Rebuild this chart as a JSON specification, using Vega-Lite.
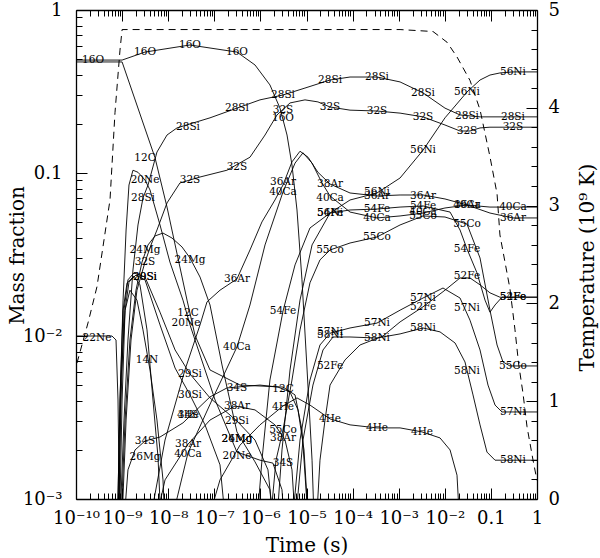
{
"$schema":"https://vega.github.io/schema/vega-lite/v6.json",
"width":461,"height":489,
"autosize":{"type":"none"},
"padding":{"left":76,"top":10,"right":63,"bottom":59},
"background":"white",
"config":{"view":{"stroke":null},"axis":{"grid":false,"domainColor":"black","domainWidth":1.3,"tickColor":"black","tickWidth":1,"labelColor":"black","titleColor":"black","labelFont":"DejaVu Serif","titleFont":"DejaVu Serif","titleFontWeight":"normal","labelFontSize":18,"titleFontSize":20}},
"datasets":{
"curves":[
{"s":"16O","t":1e-10,"X":0.493},{"s":"16O","t":1e-9,"X":0.493},{"s":"16O","t":3.14e-9,"X":0.552},{"s":"16O","t":2.97e-8,"X":0.61},{"s":"16O","t":3.1e-7,"X":0.552},{"s":"16O","t":7.64e-7,"X":0.46},{"s":"16O","t":1.61e-6,"X":0.347},{"s":"16O","t":2.66e-6,"X":0.25},{"s":"16O","t":3.78e-6,"X":0.171},{"s":"16O","t":4.84e-6,"X":0.112},{"s":"16O","t":6.22e-6,"X":0.0593},{"s":"16O","t":7.98e-6,"X":0.0221},{"s":"16O","t":1.03e-5,"X":0.00619},{"s":"16O","t":1.32e-5,"X":0.00173},{"s":"16O","t":1.53e-5,"X":0.0005},
{"s":"12C","t":1e-10,"X":0.48},{"s":"12C","t":1e-9,"X":0.48},{"s":"12C","t":5.18e-9,"X":0.124},{"s":"12C","t":9.42e-9,"X":0.0618},{"s":"12C","t":2.56e-8,"X":0.0166},{"s":"12C","t":3.81e-8,"X":0.0101},{"s":"12C","t":8.07e-8,"X":0.00619},{"s":"12C","t":3.61e-7,"X":0.005},{"s":"12C","t":3.09e-6,"X":0.00486},{"s":"12C","t":5.64e-6,"X":0.00435},{"s":"12C","t":7.98e-6,"X":0.00265},{"s":"12C","t":1.19e-5,"X":0.0005},
{"s":"28Si","t":8.57e-10,"X":0.0005},{"s":"28Si","t":1.1e-9,"X":0.00305},{"s":"28Si","t":1.34e-9,"X":0.00945},{"s":"28Si","t":1.72e-9,"X":0.0254},{"s":"28Si","t":2.21e-9,"X":0.048},{"s":"28Si","t":2.84e-9,"X":0.0703},{"s":"28Si","t":3.65e-9,"X":0.0844},{"s":"28Si","t":5.71e-9,"X":0.1345},{"s":"28Si","t":9.42e-9,"X":0.171},{"s":"28Si","t":1.55e-8,"X":0.189},{"s":"28Si","t":2.97e-8,"X":0.2},{"s":"28Si","t":8.07e-8,"X":0.218},{"s":"28Si","t":3.1e-7,"X":0.25},{"s":"28Si","t":9.8e-7,"X":0.281},{"s":"28Si","t":3.09e-6,"X":0.301},{"s":"28Si","t":9.27e-6,"X":0.332},{"s":"28Si","t":3.24e-5,"X":0.372},{"s":"28Si","t":8.79e-5,"X":0.388},{"s":"28Si","t":3.38e-4,"X":0.388},{"s":"28Si","t":1.07e-3,"X":0.362},{"s":"28Si","t":3.37e-3,"X":0.31},{"s":"28Si","t":1.01e-2,"X":0.25},{"s":"28Si","t":2.14e-2,"X":0.227},{"s":"28Si","t":5.81e-2,"X":0.221},{"s":"28Si","t":1,"X":0.221},
{"s":"32S","t":9.46e-10,"X":0.0005},{"s":"32S","t":1.22e-9,"X":0.00305},{"s":"32S","t":1.56e-9,"X":0.00945},{"s":"32S","t":2.1e-9,"X":0.0191},{"s":"32S","t":3.14e-9,"X":0.0284},{"s":"32S","t":4.24e-9,"X":0.0362},{"s":"32S","t":5.71e-9,"X":0.0447},{"s":"32S","t":9.42e-9,"X":0.0655},{"s":"32S","t":1.8e-8,"X":0.0869},{"s":"32S","t":4.9e-8,"X":0.0945},{"s":"32S","t":1.88e-7,"X":0.104},{"s":"32S","t":5.94e-7,"X":0.125},{"s":"32S","t":1.26e-6,"X":0.171},{"s":"32S","t":2.29e-6,"X":0.227},{"s":"32S","t":4.39e-6,"X":0.269},{"s":"32S","t":9.27e-6,"X":0.281},{"s":"32S","t":1.77e-5,"X":0.273},{"s":"32S","t":3.24e-5,"X":0.254},{"s":"32S","t":8.79e-5,"X":0.243},{"s":"32S","t":3.38e-4,"X":0.24},{"s":"32S","t":1.07e-3,"X":0.233},{"s":"32S","t":3.37e-3,"X":0.221},{"s":"32S","t":1.01e-2,"X":0.197},{"s":"32S","t":2.14e-2,"X":0.181},{"s":"32S","t":3.52e-2,"X":0.181},{"s":"32S","t":5.81e-2,"X":0.189},{"s":"32S","t":9.55e-2,"X":0.191},{"s":"32S","t":1,"X":0.191},
{"s":"20Ne","t":7.74e-10,"X":0.0005},{"s":"20Ne","t":9.0e-10,"X":0.00405},{"s":"20Ne","t":1.05e-9,"X":0.0166},{"s":"20Ne","t":1.22e-9,"X":0.0447},{"s":"20Ne","t":1.41e-9,"X":0.0844},{"s":"20Ne","t":1.72e-9,"X":0.104},{"s":"20Ne","t":2.21e-9,"X":0.101},{"s":"20Ne","t":3.14e-9,"X":0.0906},{"s":"20Ne","t":4.03e-9,"X":0.0787},{"s":"20Ne","t":6.64e-9,"X":0.048},{"s":"20Ne","t":1.09e-8,"X":0.0284},{"s":"20Ne","t":2.09e-8,"X":0.0166},{"s":"20Ne","t":2.97e-8,"X":0.0117},{"s":"20Ne","t":4.9e-8,"X":0.00765},{"s":"20Ne","t":1.04e-7,"X":0.00405},{"s":"20Ne","t":3.1e-7,"X":0.00194},{"s":"20Ne","t":9.8e-7,"X":0.00173},{"s":"20Ne","t":1.87e-6,"X":0.00166},{"s":"20Ne","t":2.94e-6,"X":0.00114},{"s":"20Ne","t":3.59e-6,"X":0.0005},
{"s":"24Mg","t":9.0e-10,"X":0.0005},{"s":"24Mg","t":1.16e-9,"X":0.00305},{"s":"24Mg","t":1.48e-9,"X":0.00945},{"s":"24Mg","t":2.0e-9,"X":0.0191},{"s":"24Mg","t":2.7e-9,"X":0.0284},{"s":"24Mg","t":3.65e-9,"X":0.0362},{"s":"24Mg","t":5.18e-9,"X":0.0411},{"s":"24Mg","t":7.71e-9,"X":0.0428},{"s":"24Mg","t":1.21e-8,"X":0.0399},{"s":"24Mg","t":1.99e-8,"X":0.0352},{"s":"24Mg","t":2.97e-8,"X":0.0301},{"s":"24Mg","t":4.9e-8,"X":0.023},{"s":"24Mg","t":8.07e-8,"X":0.0155},{"s":"24Mg","t":1.47e-7,"X":0.00664},{"s":"24Mg","t":3.1e-7,"X":0.00258},{"s":"24Mg","t":7.64e-7,"X":0.00169},{"s":"24Mg","t":1.61e-6,"X":0.00114},{"s":"24Mg","t":2.07e-6,"X":0.0005},
{"s":"22Ne","t":1e-10,"X":0.01},{"s":"22Ne","t":6.04e-10,"X":0.01},{"s":"22Ne","t":7.38e-10,"X":0.00945},{"s":"22Ne","t":8.15e-10,"X":0.00405},{"s":"22Ne","t":9.0e-10,"X":0.0005},
{"s":"29Si","t":8.15e-10,"X":0.0005},{"s":"29Si","t":9.46e-10,"X":0.00405},{"s":"29Si","t":1.1e-9,"X":0.0144},{"s":"29Si","t":1.34e-9,"X":0.0221},{"s":"29Si","t":1.81e-9,"X":0.0244},{"s":"29Si","t":3.14e-9,"X":0.023},{"s":"29Si","t":6.64e-9,"X":0.014},{"s":"29Si","t":1.41e-8,"X":0.00821},{"s":"29Si","t":2.97e-8,"X":0.00585},{"s":"29Si","t":8.07e-8,"X":0.00417},{"s":"29Si","t":3.1e-7,"X":0.00301},{"s":"29Si","t":7.64e-7,"X":0.0023},{"s":"29Si","t":1.46e-6,"X":0.00151},{"s":"29Si","t":2.18e-6,"X":0.0005},
{"s":"30Si","t":8.57e-10,"X":0.0005},{"s":"30Si","t":1e-9,"X":0.00405},{"s":"30Si","t":1.16e-9,"X":0.0144},{"s":"30Si","t":1.41e-9,"X":0.0214},{"s":"30Si","t":2.0e-9,"X":0.0237},{"s":"30Si","t":3.14e-9,"X":0.0221},{"s":"30Si","t":6.64e-9,"X":0.0117},{"s":"30Si","t":1.41e-8,"X":0.00636},{"s":"30Si","t":2.97e-8,"X":0.00435},{"s":"30Si","t":6.28e-8,"X":0.00285},{"s":"30Si","t":1.33e-7,"X":0.00162},{"s":"30Si","t":1.98e-7,"X":0.0005},
{"s":"26Mg","t":7.74e-10,"X":0.0005},{"s":"26Mg","t":9.0e-10,"X":0.00405},{"s":"26Mg","t":1.05e-9,"X":0.0144},{"s":"26Mg","t":1.28e-9,"X":0.0212},{"s":"26Mg","t":1.81e-9,"X":0.0233},{"s":"26Mg","t":2.44e-9,"X":0.0206},{"s":"26Mg","t":3.47e-9,"X":0.0109},{"s":"26Mg","t":4.68e-9,"X":0.00405},{"s":"26Mg","t":6.01e-9,"X":0.00181},{"s":"26Mg","t":7.35e-9,"X":0.0005},
{"s":"14N","t":8.15e-10,"X":0.0005},{"s":"14N","t":9.46e-10,"X":0.00537},{"s":"14N","t":1.16e-9,"X":0.0144},{"s":"14N","t":1.48e-9,"X":0.0191},{"s":"14N","t":2.1e-9,"X":0.0166},{"s":"14N","t":2.84e-9,"X":0.0109},{"s":"14N","t":4.03e-9,"X":0.00619},{"s":"14N","t":5.71e-9,"X":0.00305},{"s":"14N","t":7.71e-9,"X":0.00131},{"s":"14N","t":8.95e-9,"X":0.0005},
{"s":"34S","t":1e-9,"X":0.0005},{"s":"34S","t":1.34e-9,"X":0.00151},{"s":"34S","t":1.91e-9,"X":0.002},{"s":"34S","t":3.14e-9,"X":0.00227},{"s":"34S","t":6.64e-9,"X":0.0024},{"s":"34S","t":2.09e-8,"X":0.00293},{"s":"34S","t":8.07e-8,"X":0.00423},{"s":"34S","t":1.88e-7,"X":0.0048},{"s":"34S","t":3.1e-7,"X":0.00486},{"s":"34S","t":9.8e-7,"X":0.005},{"s":"34S","t":2.41e-6,"X":0.00486},{"s":"34S","t":4.39e-6,"X":0.00453},{"s":"34S","t":6.55e-6,"X":0.00352},{"s":"34S","t":8.83e-6,"X":0.002},{"s":"34S","t":1.19e-5,"X":0.0005},
{"s":"38Ar","t":4.03e-9,"X":0.0005},{"s":"38Ar","t":8.53e-9,"X":0.00131},{"s":"38Ar","t":2.69e-8,"X":0.00217},{"s":"38Ar","t":8.07e-8,"X":0.00305},{"s":"38Ar","t":2.81e-7,"X":0.00372},{"s":"38Ar","t":7.64e-7,"X":0.00352},{"s":"38Ar","t":2.07e-6,"X":0.00285},{"s":"38Ar","t":3.42e-6,"X":0.0023},{"s":"38Ar","t":4.84e-6,"X":0.00151},{"s":"38Ar","t":6.22e-6,"X":0.0005},
{"s":"36Ar","t":3.14e-9,"X":0.0005},{"s":"36Ar","t":8.53e-9,"X":0.0023},{"s":"36Ar","t":2.31e-8,"X":0.00619},{"s":"36Ar","t":4.9e-8,"X":0.0117},{"s":"36Ar","t":6.95e-8,"X":0.0162},{"s":"36Ar","t":1.33e-7,"X":0.0191},{"s":"36Ar","t":3.1e-7,"X":0.0224},{"s":"36Ar","t":5.94e-7,"X":0.0337},{"s":"36Ar","t":1.08e-6,"X":0.0501},{"s":"36Ar","t":2.07e-6,"X":0.0683},{"s":"36Ar","t":3.09e-6,"X":0.0844},{"s":"36Ar","t":4.84e-6,"X":0.117},{"s":"36Ar","t":7.23e-6,"X":0.136},{"s":"36Ar","t":1.08e-5,"X":0.125},{"s":"36Ar","t":1.77e-5,"X":0.101},{"s":"36Ar","t":3.24e-5,"X":0.0856},{"s":"36Ar","t":8.79e-5,"X":0.0754},{"s":"36Ar","t":3.38e-4,"X":0.0723},{"s":"36Ar","t":1.07e-3,"X":0.0733},{"s":"36Ar","t":3.37e-3,"X":0.0733},{"s":"36Ar","t":1.01e-2,"X":0.0693},{"s":"36Ar","t":3.03e-2,"X":0.0636},{"s":"36Ar","t":9.55e-2,"X":0.0568},{"s":"36Ar","t":0.301,"X":0.053},{"s":"36Ar","t":1,"X":0.053},
{"s":"40Ca","t":8.53e-9,"X":0.0005},{"s":"40Ca","t":2.69e-8,"X":0.00192},{"s":"40Ca","t":8.91e-8,"X":0.00405},{"s":"40Ca","t":3.1e-7,"X":0.00857},{"s":"40Ca","t":5.94e-7,"X":0.0155},{"s":"40Ca","t":1.26e-6,"X":0.0362},{"s":"40Ca","t":3.09e-6,"X":0.0765},{"s":"40Ca","t":5.64e-6,"X":0.115},{"s":"40Ca","t":8.39e-6,"X":0.133},{"s":"40Ca","t":1.32e-5,"X":0.115},{"s":"40Ca","t":2.17e-5,"X":0.0869},{"s":"40Ca","t":3.24e-5,"X":0.0723},{"s":"40Ca","t":8.79e-5,"X":0.0576},{"s":"40Ca","t":3.38e-4,"X":0.053},{"s":"40Ca","t":1.07e-3,"X":0.0545},{"s":"40Ca","t":3.37e-3,"X":0.0568},{"s":"40Ca","t":1.01e-2,"X":0.061},{"s":"40Ca","t":3.03e-2,"X":0.0636},{"s":"40Ca","t":9.55e-2,"X":0.0618},{"s":"40Ca","t":1,"X":0.0618},
{"s":"54Fe","t":7.64e-7,"X":0.0005},{"s":"54Fe","t":1.08e-6,"X":0.00173},{"s":"54Fe","t":1.61e-6,"X":0.00537},{"s":"54Fe","t":3.09e-6,"X":0.0142},{"s":"54Fe","t":5.64e-6,"X":0.0273},{"s":"54Fe","t":1.19e-5,"X":0.046},{"s":"54Fe","t":3.24e-5,"X":0.0568},{"s":"54Fe","t":8.79e-5,"X":0.0593},{"s":"54Fe","t":3.38e-4,"X":0.0601},{"s":"54Fe","t":1.07e-3,"X":0.0618},{"s":"54Fe","t":3.37e-3,"X":0.0628},{"s":"54Fe","t":1.3e-2,"X":0.0576},{"s":"54Fe","t":2.14e-2,"X":0.0447},{"s":"54Fe","t":3.03e-2,"X":0.0342},{"s":"54Fe","t":4.99e-2,"X":0.0244},{"s":"54Fe","t":7.45e-2,"X":0.0166},{"s":"54Fe","t":9.55e-2,"X":0.014},{"s":"54Fe","t":0.123,"X":0.0155},{"s":"54Fe","t":0.174,"X":0.0173},{"s":"54Fe","t":1,"X":0.0173},
{"s":"56Ni","t":2.07e-6,"X":0.0005},{"s":"56Ni","t":2.94e-6,"X":0.002},{"s":"56Ni","t":4.39e-6,"X":0.00619},{"s":"56Ni","t":7.23e-6,"X":0.0166},{"s":"56Ni","t":1.32e-5,"X":0.0362},{"s":"56Ni","t":3.24e-5,"X":0.0568},{"s":"56Ni","t":8.79e-5,"X":0.0683},{"s":"56Ni","t":3.38e-4,"X":0.0754},{"s":"56Ni","t":1.07e-3,"X":0.0932},{"s":"56Ni","t":3.37e-3,"X":0.138},{"s":"56Ni","t":1.01e-2,"X":0.218},{"s":"56Ni","t":3.03e-2,"X":0.314},{"s":"56Ni","t":5.81e-2,"X":0.372},{"s":"56Ni","t":9.55e-2,"X":0.399},{"s":"56Ni","t":0.157,"X":0.411},{"s":"56Ni","t":0.301,"X":0.417},{"s":"56Ni","t":1,"X":0.417},
{"s":"55Co","t":1.46e-6,"X":0.0005},{"s":"55Co","t":2.18e-6,"X":0.00173},{"s":"55Co","t":3.09e-6,"X":0.00265},{"s":"55Co","t":4.84e-6,"X":0.00537},{"s":"55Co","t":7.23e-6,"X":0.0109},{"s":"55Co","t":1.19e-5,"X":0.0212},{"s":"55Co","t":1.96e-5,"X":0.0293},{"s":"55Co","t":3.24e-5,"X":0.0337},{"s":"55Co","t":8.79e-5,"X":0.0372},{"s":"55Co","t":3.38e-4,"X":0.0405},{"s":"55Co","t":1.07e-3,"X":0.048},{"s":"55Co","t":3.37e-3,"X":0.0545},{"s":"55Co","t":1.01e-2,"X":0.0537},{"s":"55Co","t":3.03e-2,"X":0.0486},{"s":"55Co","t":5.81e-2,"X":0.0301},{"s":"55Co","t":9.55e-2,"X":0.0144},{"s":"55Co","t":0.136,"X":0.00881},{"s":"55Co","t":0.183,"X":0.00693},{"s":"55Co","t":0.259,"X":0.00655},{"s":"55Co","t":1,"X":0.00655},
{"s":"57Ni","t":4.39e-6,"X":0.0005},{"s":"57Ni","t":7.23e-6,"X":0.0023},{"s":"57Ni","t":1.19e-5,"X":0.00537},{"s":"57Ni","t":1.96e-5,"X":0.00881},{"s":"57Ni","t":3.24e-5,"X":0.0104},{"s":"57Ni","t":8.79e-5,"X":0.0112},{"s":"57Ni","t":3.38e-4,"X":0.012},{"s":"57Ni","t":1.07e-3,"X":0.0144},{"s":"57Ni","t":3.37e-3,"X":0.0171},{"s":"57Ni","t":9.14e-3,"X":0.0197},{"s":"57Ni","t":2.14e-2,"X":0.0171},{"s":"57Ni","t":3.52e-2,"X":0.0125},{"s":"57Ni","t":5.81e-2,"X":0.00821},{"s":"57Ni","t":8.65e-2,"X":0.005},{"s":"57Ni","t":0.123,"X":0.00377},{"s":"57Ni","t":0.174,"X":0.00342},{"s":"57Ni","t":1,"X":0.00342},
{"s":"58Ni","t":5.09e-6,"X":0.0005},{"s":"58Ni","t":8.39e-6,"X":0.0023},{"s":"58Ni","t":1.38e-5,"X":0.005},{"s":"58Ni","t":2.28e-5,"X":0.00821},{"s":"58Ni","t":3.76e-5,"X":0.00986},{"s":"58Ni","t":8.79e-5,"X":0.00986},{"s":"58Ni","t":3.38e-4,"X":0.00972},{"s":"58Ni","t":1.07e-3,"X":0.0103},{"s":"58Ni","t":3.37e-3,"X":0.0112},{"s":"58Ni","t":7.87e-3,"X":0.0106},{"s":"58Ni","t":1.67e-2,"X":0.00906},{"s":"58Ni","t":2.74e-2,"X":0.00693},{"s":"58Ni","t":4.09e-2,"X":0.00435},{"s":"58Ni","t":5.81e-2,"X":0.00285},{"s":"58Ni","t":8.22e-2,"X":0.00194},{"s":"58Ni","t":0.123,"X":0.00173},{"s":"58Ni","t":1,"X":0.00173},
{"s":"52Fe","t":1.53e-5,"X":0.0005},{"s":"52Fe","t":1.96e-5,"X":0.00173},{"s":"52Fe","t":2.52e-5,"X":0.00305},{"s":"52Fe","t":3.24e-5,"X":0.005},{"s":"52Fe","t":6.84e-5,"X":0.00713},{"s":"52Fe","t":1.45e-4,"X":0.00881},{"s":"52Fe","t":4.56e-4,"X":0.01},{"s":"52Fe","t":1.07e-3,"X":0.0122},{"s":"52Fe","t":3.37e-3,"X":0.0151},{"s":"52Fe","t":1.01e-2,"X":0.0191},{"s":"52Fe","t":2.14e-2,"X":0.0227},{"s":"52Fe","t":3.52e-2,"X":0.0227},{"s":"52Fe","t":5.81e-2,"X":0.0206},{"s":"52Fe","t":9.55e-2,"X":0.0184},{"s":"52Fe","t":0.157,"X":0.0173},{"s":"52Fe","t":1,"X":0.0173},
{"s":"4He","t":4.9e-8,"X":0.0005},{"s":"4He","t":1.33e-7,"X":0.00131},{"s":"4He","t":3.61e-7,"X":0.00214},{"s":"4He","t":9.8e-7,"X":0.00285},{"s":"4He","t":3.09e-6,"X":0.00372},{"s":"4He","t":6.22e-6,"X":0.00417},{"s":"4He","t":1.19e-5,"X":0.00377},{"s":"4He","t":3.24e-5,"X":0.0031},{"s":"4He","t":8.79e-5,"X":0.00285},{"s":"4He","t":3.38e-4,"X":0.00273},{"s":"4He","t":1.07e-3,"X":0.00273},{"s":"4He","t":3.2e-3,"X":0.00258},{"s":"4He","t":7.87e-3,"X":0.00237},{"s":"4He","t":1.3e-2,"X":0.002},{"s":"4He","t":1.84e-2,"X":0.0014},{"s":"4He","t":2.24e-2,"X":0.0005}
],
"labels":[
{"l":"16O","t":2.34e-10,"X":0.493},{"l":"16O","t":3.14e-9,"X":0.552},{"l":"16O","t":2.97e-8,"X":0.61},{"l":"16O","t":3.1e-7,"X":0.552},{"l":"16O","t":3.09e-6,"X":0.218},
{"l":"28Si","t":2.69e-8,"X":0.191},{"l":"12C","t":3.14e-9,"X":0.124},{"l":"20Ne","t":3.14e-9,"X":0.0906},{"l":"32S","t":2.97e-8,"X":0.0906},{"l":"28Si","t":2.84e-9,"X":0.0703},
{"l":"28Si","t":3.1e-7,"X":0.25},{"l":"28Si","t":3.09e-6,"X":0.301},{"l":"32S","t":3.09e-6,"X":0.243},{"l":"28Si","t":3.24e-5,"X":0.372},{"l":"32S","t":3.24e-5,"X":0.254},
{"l":"28Si","t":3.38e-4,"X":0.388},{"l":"32S","t":3.38e-4,"X":0.24},{"l":"32S","t":3.1e-7,"X":0.109},{"l":"36Ar","t":3.09e-6,"X":0.0881},{"l":"40Ca","t":3.09e-6,"X":0.0765},
{"l":"38Ar","t":3.24e-5,"X":0.0856},{"l":"40Ca","t":3.24e-5,"X":0.0703},{"l":"56Ni","t":3.38e-4,"X":0.0765},{"l":"36Ar","t":3.38e-4,"X":0.0723},{"l":"56Ni","t":0.301,"X":0.417},
{"l":"56Ni","t":3.03e-2,"X":0.314},{"l":"28Si","t":3.37e-3,"X":0.31},{"l":"28Si","t":3.03e-2,"X":0.224},{"l":"28Si","t":0.301,"X":0.221},{"l":"32S","t":3.37e-3,"X":0.221},
{"l":"32S","t":3.03e-2,"X":0.181},{"l":"32S","t":0.301,"X":0.191},{"l":"56Ni","t":3.37e-3,"X":0.138},{"l":"36Ar","t":3.37e-3,"X":0.0723},{"l":"54Fe","t":3.37e-3,"X":0.0628},
{"l":"40Ca","t":3.37e-3,"X":0.0576},{"l":"55Co","t":3.37e-3,"X":0.0545},{"l":"36Ar","t":3.03e-2,"X":0.0636},{"l":"40Ca","t":3.03e-2,"X":0.0636},{"l":"40Ca","t":0.301,"X":0.0618},
{"l":"36Ar","t":0.301,"X":0.053},{"l":"55Co","t":3.03e-2,"X":0.0486},{"l":"54Fe","t":3.03e-2,"X":0.0342},{"l":"52Fe","t":3.03e-2,"X":0.0233},{"l":"57Ni","t":3.37e-3,"X":0.0171},
{"l":"52Fe","t":3.37e-3,"X":0.0151},{"l":"57Ni","t":3.03e-2,"X":0.0149},{"l":"54Fe","t":0.301,"X":0.0173},{"l":"52Fe","t":0.301,"X":0.0173},{"l":"58Ni","t":3.37e-3,"X":0.0112},
{"l":"58Ni","t":3.03e-2,"X":0.0061},{"l":"55Co","t":0.301,"X":0.00655},{"l":"57Ni","t":0.301,"X":0.00342},{"l":"58Ni","t":0.301,"X":0.00173},{"l":"4He","t":3.2e-3,"X":0.00258},
{"l":"4He","t":3.38e-4,"X":0.00273},{"l":"4He","t":3.24e-5,"X":0.0031},{"l":"4He","t":3.09e-6,"X":0.00367},{"l":"12C","t":3.09e-6,"X":0.00473},{"l":"55Co","t":3.09e-6,"X":0.00265},
{"l":"38Ar","t":3.09e-6,"X":0.00237},{"l":"34S","t":3.09e-6,"X":0.00166},{"l":"57Ni","t":3.24e-5,"X":0.0106},{"l":"58Ni","t":3.24e-5,"X":0.0101},{"l":"58Ni","t":3.38e-4,"X":0.00972},
{"l":"57Ni","t":3.38e-4,"X":0.012},{"l":"52Fe","t":3.24e-5,"X":0.00655},{"l":"55Co","t":3.24e-5,"X":0.0337},{"l":"55Co","t":3.38e-4,"X":0.0405},{"l":"54Fe","t":3.38e-4,"X":0.0601},
{"l":"40Ca","t":3.38e-4,"X":0.053},{"l":"56Ni","t":3.24e-5,"X":0.0568},{"l":"54Fe","t":3.24e-5,"X":0.0568},{"l":"54Fe","t":3.09e-6,"X":0.0142},{"l":"36Ar","t":3.1e-7,"X":0.0224},
{"l":"40Ca","t":3.1e-7,"X":0.00857},{"l":"24Mg","t":3.14e-9,"X":0.0337},{"l":"32S","t":3.14e-9,"X":0.0284},{"l":"29Si","t":3.14e-9,"X":0.023},{"l":"30Si","t":3.14e-9,"X":0.023},
{"l":"24Mg","t":2.97e-8,"X":0.0293},{"l":"22Ne","t":2.85e-10,"X":0.00972},{"l":"14N","t":3.47e-9,"X":0.00713},{"l":"12C","t":2.69e-8,"X":0.0138},{"l":"20Ne","t":2.43e-8,"X":0.012},
{"l":"29Si","t":2.97e-8,"X":0.00585},{"l":"30Si","t":2.97e-8,"X":0.00435},{"l":"34S","t":2.69e-8,"X":0.00328},{"l":"4He","t":2.69e-8,"X":0.00328},{"l":"34S","t":3.14e-9,"X":0.00227},
{"l":"26Mg","t":3.14e-9,"X":0.00181},{"l":"38Ar","t":2.69e-8,"X":0.00217},{"l":"40Ca","t":2.69e-8,"X":0.00189},{"l":"34S","t":3.1e-7,"X":0.0048},{"l":"38Ar","t":3.1e-7,"X":0.00372},
{"l":"29Si","t":3.1e-7,"X":0.00301},{"l":"24Mg","t":3.1e-7,"X":0.00233},{"l":"26Mg","t":3.1e-7,"X":0.00233},{"l":"20Ne","t":3.1e-7,"X":0.00184}
],
"temp":[
{"t":1.05e-10,"T":1.39},{"t":1.82e-10,"T":1.8},{"t":2.85e-10,"T":2.17},{"t":3.85e-10,"T":2.58},{"t":5.47e-10,"T":3.06},{"t":7.01e-10,"T":3.95},{"t":9.0e-10,"T":4.59},{"t":1e-9,"T":4.8},
{"t":1.07e-3,"T":4.8},{"t":5.55e-3,"T":4.78},{"t":1.12e-2,"T":4.67},{"t":1.84e-2,"T":4.52},{"t":3.52e-2,"T":4.28},{"t":5.81e-2,"T":3.98},{"t":9.55e-2,"T":3.5},{"t":0.136,"T":3.12},{"t":0.157,"T":2.7},{"t":0.259,"T":2.15},{"t":0.333,"T":1.73},{"t":0.4,"T":1.38},{"t":0.497,"T":1.08},{"t":0.607,"T":0.74},{"t":0.818,"T":0.4},{"t":1,"T":0.19}
]
},
"layer":[
{"data":{"name":"curves"},
 "mark":{"type":"line","color":"black","strokeWidth":0.9,"clip":true},
 "encoding":{
  "x":{"field":"t","type":"quantitative","scale":{"type":"log","domain":[1e-10,1]},
   "axis":{"orient":"bottom","title":"Time (s)","values":[1e-10,1e-9,1e-8,1e-7,1e-6,1e-5,1e-4,1e-3,1e-2,0.1,1],
    "labelExpr":"['10⁻¹⁰','10⁻⁹','10⁻⁸','10⁻⁷','10⁻⁶','10⁻⁵','10⁻⁴','10⁻³','10⁻²','0.1','1'][round(log(datum.value)/LN10)+10]",
    "tickSize":-11,"labelPadding":21,"labelOverlap":false,"labelFlush":false,"labelBound":false,
    "titleX":230.5,"titleY":46,"titleBaseline":"middle","titleAlign":"center"}},
  "y":{"field":"X","type":"quantitative","scale":{"type":"log","domain":[0.001,1]},
   "axis":{"orient":"left","title":"Mass fraction","values":[0.001,0.01,0.1,1],
    "labelExpr":"datum.value >= 0.5 ? '1' : datum.value >= 0.05 ? '0.1' : datum.value >= 0.005 ? '10⁻²' : '10⁻³'",
    "tickSize":-11,"labelPadding":25,"labelOverlap":false,
    "titleX":-59,"titleY":245,"titleAngle":270,"titleBaseline":"middle","titleAlign":"center"}},
  "detail":{"field":"s"}
 }},
{"data":{"name":"labels"},
 "mark":{"type":"text","color":"black","font":"DejaVu Serif","fontSize":10.5,"align":"center","baseline":"middle"},
 "encoding":{
  "x":{"field":"t","type":"quantitative","scale":{"type":"log","domain":[1e-10,1]},
   "axis":{"orient":"bottom","title":null,"labels":false,"domain":false,"tickSize":-6,
    "values":[2e-10,3e-10,4e-10,5e-10,6e-10,7e-10,8e-10,9e-10,2e-9,3e-9,4e-9,5e-9,6e-9,7e-9,8e-9,9e-9,2e-8,3e-8,4e-8,5e-8,6e-8,7e-8,8e-8,9e-8,2e-7,3e-7,4e-7,5e-7,6e-7,7e-7,8e-7,9e-7,2e-6,3e-6,4e-6,5e-6,6e-6,7e-6,8e-6,9e-6,2e-5,3e-5,4e-5,5e-5,6e-5,7e-5,8e-5,9e-5,2e-4,3e-4,4e-4,5e-4,6e-4,7e-4,8e-4,9e-4,2e-3,3e-3,4e-3,5e-3,6e-3,7e-3,8e-3,9e-3,2e-2,3e-2,4e-2,5e-2,6e-2,7e-2,8e-2,9e-2,0.2,0.3,0.4,0.5,0.6,0.7,0.8,0.9]}},
  "y":{"field":"X","type":"quantitative","scale":{"type":"log","domain":[0.001,1]},
   "axis":{"orient":"left","title":null,"labels":false,"domain":false,"tickSize":-6,
    "values":[0.002,0.003,0.004,0.005,0.006,0.007,0.008,0.009,0.02,0.03,0.04,0.05,0.06,0.07,0.08,0.09,0.2,0.3,0.4,0.5,0.6,0.7,0.8,0.9]}},
  "text":{"field":"l"}
 }},
{"data":{"name":"temp"},
 "mark":{"type":"line","color":"black","strokeWidth":1,"strokeDash":[7,5],"clip":true},
 "encoding":{
  "x":{"field":"t","type":"quantitative","scale":{"type":"log","domain":[1e-10,1]},
   "axis":{"orient":"top","title":null,"labels":false,"tickSize":-11,"values":[1e-10,1e-9,1e-8,1e-7,1e-6,1e-5,1e-4,1e-3,1e-2,0.1,1]}},
  "y":{"field":"T","type":"quantitative","scale":{"type":"linear","domain":[0,5]},
   "axis":{"orient":"right","title":"Temperature (10⁹ K)","values":[0,1,2,3,4,5],"format":"d","tickSize":-11,"labelPadding":22,
    "titleX":50,"titleY":257,"titleAngle":270,"titleBaseline":"middle","titleAlign":"center"}}
 }},
{"data":{"name":"temp"},
 "mark":{"type":"line","opacity":0},
 "encoding":{
  "x":{"field":"t","type":"quantitative","scale":{"type":"log","domain":[1e-10,1]},
   "axis":{"orient":"top","title":null,"labels":false,"domain":false,"tickSize":-6,
    "values":[2e-10,3e-10,4e-10,5e-10,6e-10,7e-10,8e-10,9e-10,2e-9,3e-9,4e-9,5e-9,6e-9,7e-9,8e-9,9e-9,2e-8,3e-8,4e-8,5e-8,6e-8,7e-8,8e-8,9e-8,2e-7,3e-7,4e-7,5e-7,6e-7,7e-7,8e-7,9e-7,2e-6,3e-6,4e-6,5e-6,6e-6,7e-6,8e-6,9e-6,2e-5,3e-5,4e-5,5e-5,6e-5,7e-5,8e-5,9e-5,2e-4,3e-4,4e-4,5e-4,6e-4,7e-4,8e-4,9e-4,2e-3,3e-3,4e-3,5e-3,6e-3,7e-3,8e-3,9e-3,2e-2,3e-2,4e-2,5e-2,6e-2,7e-2,8e-2,9e-2,0.2,0.3,0.4,0.5,0.6,0.7,0.8,0.9]}},
  "y":{"field":"T","type":"quantitative","scale":{"type":"linear","domain":[0,5]},
   "axis":{"orient":"right","title":null,"labels":false,"domain":false,"tickSize":-6,
    "values":[0.2,0.4,0.6,0.8,1.2,1.4,1.6,1.8,2.2,2.4,2.6,2.8,3.2,3.4,3.6,3.8,4.2,4.4,4.6,4.8]}}
 }}
],
"resolve":{"scale":{"y":"independent"},"axis":{"x":"independent","y":"independent"}}
}
